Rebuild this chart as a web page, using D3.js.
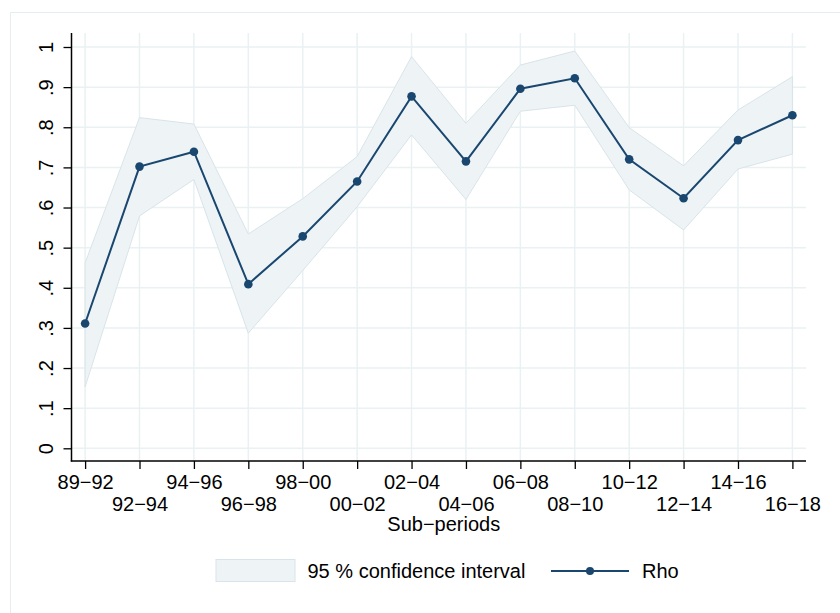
<!DOCTYPE html>
<html>
<head>
    <title>Rho by sub-period</title>
    <style>
        body { margin: 0; background: #fff; }
        text { font-family: "Liberation Sans", Arial, Helvetica, sans-serif; fill: #000; }
    </style>
    <script src="https://d3js.org/d3.v7.min.js"></script>
</head>
<body>
    <div id="chart"></div>

    <script>
        // sub-periods on the x axis
        var periods = ['89\u221292', '92\u221294', '94\u221296', '96\u221298', '98\u221200', '00\u221202', '02\u221204',
                       '04\u221206', '06\u221208', '08\u221210', '10\u221212', '12\u221214', '14\u221216', '16\u221218'];
        var rho   = [0.311, 0.702, 0.739, 0.409, 0.528, 0.665, 0.877, 0.715, 0.896, 0.922, 0.720, 0.623, 0.768, 0.830];
        var ciLow = [0.153, 0.579, 0.670, 0.287, 0.443, 0.602, 0.781, 0.620, 0.840, 0.855, 0.644, 0.544, 0.696, 0.733];
        var ciHigh = [0.462, 0.824, 0.808, 0.534, 0.622, 0.727, 0.976, 0.810, 0.955, 0.990, 0.799, 0.704, 0.843, 0.926];
        var yTicks = [0, 0.1, 0.2, 0.3, 0.4, 0.5, 0.6, 0.7, 0.8, 0.9, 1];
        var yTickLabels = ['0', '.1', '.2', '.3', '.4', '.5', '.6', '.7', '.8', '.9', '1'];

        var W = 840, H = 613;
        var plotLeft = 71.5, plotRight = 806, plotTop = 33, plotBottom = 461;

        var navy = '#1a476f', grid = '#eaf1f3', ciFill = '#eef4f6', ciEdge = '#d8e4e9';

        var svg = d3.select('#chart').append('svg')
            .attr('width', W)
            .attr('height', H);

        // graph region border (runs off the page right and bottom)
        svg.append('rect')
            .attr('x', 10.5).attr('y', 12.5)
            .attr('width', 900).attr('height', 700)
            .attr('fill', 'none')
            .attr('stroke', '#e4edf0');

        var x = d3.scalePoint()
            .domain(periods)
            .range([plotLeft, plotRight])
            .padding(0.25);

        var y = d3.scaleLinear()
            .domain([0, 1])
            .range([448.3, 47]);

        // grid
        svg.append('g').selectAll('line')
            .data(yTicks).enter().append('line')
            .attr('x1', plotLeft).attr('x2', plotRight)
            .attr('y1', function(d) { return y(d); })
            .attr('y2', function(d) { return y(d); })
            .attr('stroke', grid).attr('stroke-width', 1.5);

        svg.append('g').selectAll('line')
            .data(periods).enter().append('line')
            .attr('x1', function(d) { return x(d); })
            .attr('x2', function(d) { return x(d); })
            .attr('y1', plotTop).attr('y2', plotBottom)
            .attr('stroke', grid).attr('stroke-width', 1.5);

        // confidence band
        var band = periods.map(function(p, i) { return { p: p, lo: ciLow[i], hi: ciHigh[i] }; });
        svg.append('path')
            .datum(band)
            .attr('fill', ciFill)
            .attr('stroke', ciEdge)
            .attr('stroke-width', 1)
            .attr('d', d3.area()
                .x(function(d) { return x(d.p); })
                .y0(function(d) { return y(d.lo); })
                .y1(function(d) { return y(d.hi); }));

        // rho line + markers
        var pts = periods.map(function(p, i) { return { p: p, v: rho[i] }; });
        svg.append('path')
            .datum(pts)
            .attr('fill', 'none')
            .attr('stroke', navy)
            .attr('stroke-width', 2)
            .attr('d', d3.line()
                .x(function(d) { return x(d.p); })
                .y(function(d) { return y(d.v); }));

        svg.append('g').selectAll('circle')
            .data(pts).enter().append('circle')
            .attr('cx', function(d) { return x(d.p); })
            .attr('cy', function(d) { return y(d.v); })
            .attr('r', 4.3)
            .attr('fill', navy);

        // y axis
        var yAxis = d3.axisLeft(y)
            .tickValues(yTicks)
            .tickSize(8)
            .tickPadding(0)
            .tickFormat(function(d, i) { return yTickLabels[i]; });

        var gy = svg.append('g')
            .attr('transform', 'translate(' + plotLeft + ',0)')
            .call(yAxis);
        gy.select('.domain').remove();
        gy.selectAll('.tick line').attr('stroke', '#000').attr('stroke-width', 1.3);
        gy.selectAll('.tick text')
            .attr('transform', 'rotate(-90)')
            .attr('x', 0).attr('y', -19)
            .attr('dy', 0)
            .attr('text-anchor', 'middle')
            .style('font-size', '20px')
            .style('font-family', '"Liberation Sans", Arial, sans-serif')
            .attr('fill', '#000');

        svg.append('line')
            .attr('x1', plotLeft).attr('x2', plotLeft)
            .attr('y1', plotTop).attr('y2', plotBottom + 0.5)
            .attr('stroke', '#000').attr('stroke-width', 1.5);

        // x axis
        var xAxis = d3.axisBottom(x)
            .tickSize(8)
            .tickPadding(0);

        var gx = svg.append('g')
            .attr('transform', 'translate(0,' + plotBottom + ')')
            .call(xAxis);
        gx.select('.domain').remove();
        gx.selectAll('.tick line').attr('stroke', '#000').attr('stroke-width', 1.3);
        gx.selectAll('.tick text')
            .attr('y', function(d, i) { return i % 2 === 0 ? 28 : 50; })
            .attr('dy', 0)
            .style('font-size', '20px')
            .style('font-family', '"Liberation Sans", Arial, sans-serif')
            .attr('fill', '#000');

        svg.append('line')
            .attr('x1', plotLeft - 0.75).attr('x2', plotRight)
            .attr('y1', plotBottom).attr('y2', plotBottom)
            .attr('stroke', '#000').attr('stroke-width', 1.5);

        svg.append('text')
            .attr('x', (plotLeft + plotRight) / 2 + 5)
            .attr('y', 531)
            .attr('text-anchor', 'middle')
            .style('font-size', '20px')
            .text('Sub\u2212periods');

        // legend
        var lg = svg.append('g');
        lg.append('rect')
            .attr('x', 216).attr('y', 559.5)
            .attr('width', 79).attr('height', 22)
            .attr('fill', ciFill).attr('stroke', ciEdge);
        lg.append('text')
            .attr('x', 307.5).attr('y', 578)
            .style('font-size', '20px')
            .text('95 % confidence interval');
        lg.append('line')
            .attr('x1', 551).attr('x2', 629)
            .attr('y1', 571).attr('y2', 571)
            .attr('stroke', navy).attr('stroke-width', 2);
        lg.append('circle')
            .attr('cx', 590).attr('cy', 571).attr('r', 4)
            .attr('fill', navy);
        lg.append('text')
            .attr('x', 642).attr('y', 578)
            .style('font-size', '20px')
            .text('Rho');
    </script>
</body>
</html>
